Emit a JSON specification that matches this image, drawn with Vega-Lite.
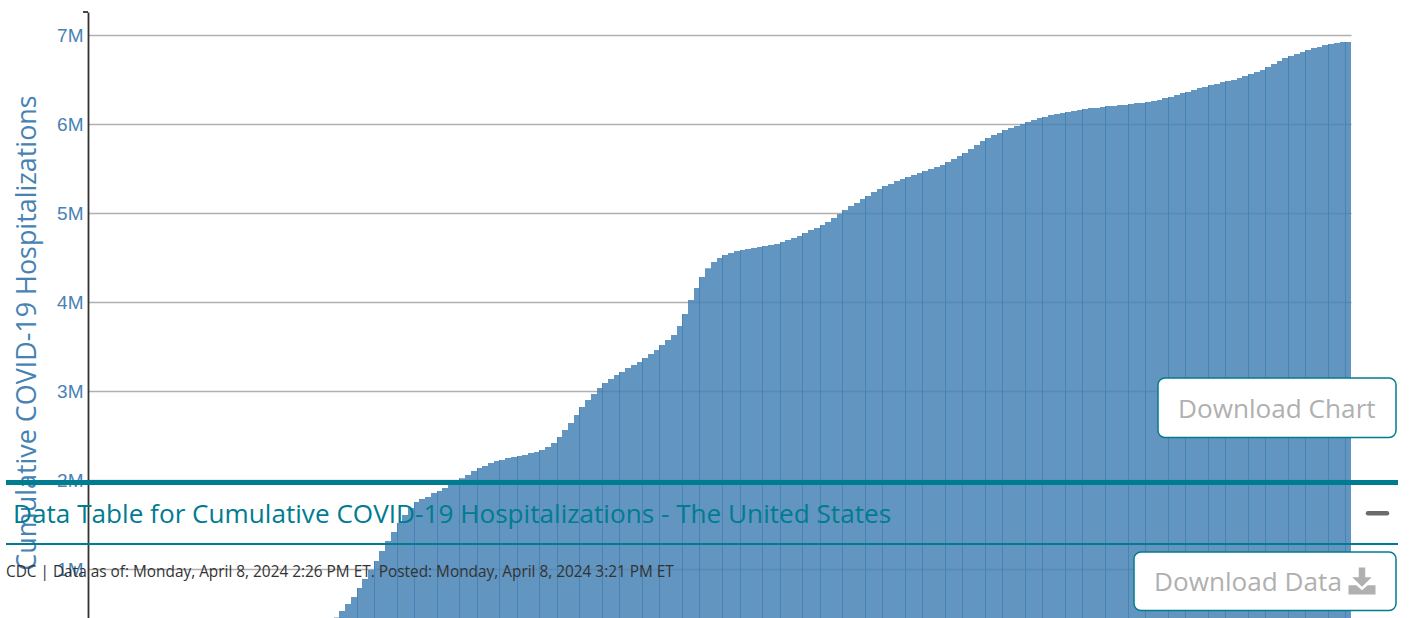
{"$schema":"https://vega.github.io/schema/vega-lite/v6.json","width":1263,"height":606,"autosize":{"type":"none"},"padding":{"left":88,"top":12,"right":59,"bottom":0},"background":"white","view":{"stroke":null},
"data":{"values":[{"week":43,"end":44,"hosp":455000},{"week":44,"end":45,"hosp":528000},{"week":45,"end":46,"hosp":607000},{"week":46,"end":47,"hosp":685000},{"week":47,"end":48,"hosp":787000,"m":1},{"week":48,"end":49,"hosp":888000},{"week":49,"end":50,"hosp":989000},{"week":50,"end":51,"hosp":1090000,"m":1},{"week":51,"end":52,"hosp":1202000},{"week":52,"end":53,"hosp":1315000},{"week":53,"end":54,"hosp":1416000},{"week":54,"end":55,"hosp":1517000,"m":1},{"week":55,"end":56,"hosp":1607000},{"week":56,"end":57,"hosp":1685000},{"week":57,"end":58,"hosp":1753000,"m":1},{"week":58,"end":59,"hosp":1787000},{"week":59,"end":60,"hosp":1809000},{"week":60,"end":61,"hosp":1854000},{"week":61,"end":62,"hosp":1876000,"m":1},{"week":62,"end":63,"hosp":1910000},{"week":63,"end":64,"hosp":1944000},{"week":64,"end":65,"hosp":1966000},{"week":65,"end":66,"hosp":2019000,"m":1},{"week":66,"end":67,"hosp":2056000},{"week":67,"end":68,"hosp":2101000},{"week":68,"end":69,"hosp":2135000,"m":1},{"week":69,"end":70,"hosp":2157000},{"week":70,"end":71,"hosp":2191000},{"week":71,"end":72,"hosp":2213000},{"week":72,"end":73,"hosp":2225000,"m":1},{"week":73,"end":74,"hosp":2247000},{"week":74,"end":75,"hosp":2258000},{"week":75,"end":76,"hosp":2270000,"m":1},{"week":76,"end":77,"hosp":2281000},{"week":77,"end":78,"hosp":2303000},{"week":78,"end":79,"hosp":2315000},{"week":79,"end":80,"hosp":2337000,"m":1},{"week":80,"end":81,"hosp":2371000},{"week":81,"end":82,"hosp":2416000},{"week":82,"end":83,"hosp":2483000,"m":1},{"week":83,"end":84,"hosp":2562000},{"week":84,"end":85,"hosp":2640000},{"week":85,"end":86,"hosp":2730000},{"week":86,"end":87,"hosp":2820000,"m":1},{"week":87,"end":88,"hosp":2899000},{"week":88,"end":89,"hosp":2966000},{"week":89,"end":90,"hosp":3034000},{"week":90,"end":91,"hosp":3090000,"m":1},{"week":91,"end":92,"hosp":3135000},{"week":92,"end":93,"hosp":3180000},{"week":93,"end":94,"hosp":3213000,"m":1},{"week":94,"end":95,"hosp":3258000},{"week":95,"end":96,"hosp":3292000},{"week":96,"end":97,"hosp":3326000},{"week":97,"end":98,"hosp":3371000,"m":1},{"week":98,"end":99,"hosp":3416000},{"week":99,"end":100,"hosp":3461000},{"week":100,"end":101,"hosp":3517000,"m":1},{"week":101,"end":102,"hosp":3573000},{"week":102,"end":103,"hosp":3629000},{"week":103,"end":104,"hosp":3730000},{"week":104,"end":105,"hosp":3865000,"m":1},{"week":105,"end":106,"hosp":4022000},{"week":106,"end":107,"hosp":4157000},{"week":107,"end":108,"hosp":4281000,"m":1},{"week":108,"end":109,"hosp":4379000},{"week":109,"end":110,"hosp":4449000},{"week":110,"end":111,"hosp":4494000},{"week":111,"end":112,"hosp":4528000,"m":1},{"week":112,"end":113,"hosp":4551000},{"week":113,"end":114,"hosp":4573000},{"week":114,"end":115,"hosp":4584000,"m":1},{"week":115,"end":116,"hosp":4596000},{"week":116,"end":117,"hosp":4607000},{"week":117,"end":118,"hosp":4618000},{"week":118,"end":119,"hosp":4629000,"m":1},{"week":119,"end":120,"hosp":4640000},{"week":120,"end":121,"hosp":4652000},{"week":121,"end":122,"hosp":4674000,"m":1},{"week":122,"end":123,"hosp":4697000},{"week":123,"end":124,"hosp":4719000},{"week":124,"end":125,"hosp":4742000},{"week":125,"end":126,"hosp":4775000,"m":1},{"week":126,"end":127,"hosp":4809000},{"week":127,"end":128,"hosp":4831000},{"week":128,"end":129,"hosp":4865000,"m":1},{"week":129,"end":130,"hosp":4899000},{"week":130,"end":131,"hosp":4944000},{"week":131,"end":132,"hosp":4989000},{"week":132,"end":133,"hosp":5034000,"m":1},{"week":133,"end":134,"hosp":5079000},{"week":134,"end":135,"hosp":5112000},{"week":135,"end":136,"hosp":5157000},{"week":136,"end":137,"hosp":5191000,"m":1},{"week":137,"end":138,"hosp":5236000},{"week":138,"end":139,"hosp":5270000},{"week":139,"end":140,"hosp":5303000,"m":1},{"week":140,"end":141,"hosp":5326000},{"week":141,"end":142,"hosp":5360000},{"week":142,"end":143,"hosp":5382000},{"week":143,"end":144,"hosp":5405000,"m":1},{"week":144,"end":145,"hosp":5427000},{"week":145,"end":146,"hosp":5449000},{"week":146,"end":147,"hosp":5472000,"m":1},{"week":147,"end":148,"hosp":5494000},{"week":148,"end":149,"hosp":5517000},{"week":149,"end":150,"hosp":5539000},{"week":150,"end":151,"hosp":5573000,"m":1},{"week":151,"end":152,"hosp":5607000},{"week":152,"end":153,"hosp":5640000},{"week":153,"end":154,"hosp":5674000,"m":1},{"week":154,"end":155,"hosp":5719000},{"week":155,"end":156,"hosp":5764000},{"week":156,"end":157,"hosp":5809000},{"week":157,"end":158,"hosp":5843000,"m":1},{"week":158,"end":159,"hosp":5876000},{"week":159,"end":160,"hosp":5899000},{"week":160,"end":161,"hosp":5933000,"m":1},{"week":161,"end":162,"hosp":5955000},{"week":162,"end":163,"hosp":5978000},{"week":163,"end":164,"hosp":6000000},{"week":164,"end":165,"hosp":6022000,"m":1},{"week":165,"end":166,"hosp":6045000},{"week":166,"end":167,"hosp":6067000},{"week":167,"end":168,"hosp":6079000,"m":1},{"week":168,"end":169,"hosp":6101000},{"week":169,"end":170,"hosp":6112000},{"week":170,"end":171,"hosp":6124000},{"week":171,"end":172,"hosp":6135000,"m":1},{"week":172,"end":173,"hosp":6146000},{"week":173,"end":174,"hosp":6157000},{"week":174,"end":175,"hosp":6169000,"m":1},{"week":175,"end":176,"hosp":6180000},{"week":176,"end":177,"hosp":6180000},{"week":177,"end":178,"hosp":6191000},{"week":178,"end":179,"hosp":6202000,"m":1},{"week":179,"end":180,"hosp":6202000},{"week":180,"end":181,"hosp":6214000},{"week":181,"end":182,"hosp":6214000},{"week":182,"end":183,"hosp":6225000,"m":1},{"week":183,"end":184,"hosp":6236000},{"week":184,"end":185,"hosp":6236000},{"week":185,"end":186,"hosp":6247000,"m":1},{"week":186,"end":187,"hosp":6258000},{"week":187,"end":188,"hosp":6270000},{"week":188,"end":189,"hosp":6292000},{"week":189,"end":190,"hosp":6303000,"m":1},{"week":190,"end":191,"hosp":6326000},{"week":191,"end":192,"hosp":6348000},{"week":192,"end":193,"hosp":6360000,"m":1},{"week":193,"end":194,"hosp":6382000},{"week":194,"end":195,"hosp":6405000},{"week":195,"end":196,"hosp":6416000},{"week":196,"end":197,"hosp":6438000,"m":1},{"week":197,"end":198,"hosp":6450000},{"week":198,"end":199,"hosp":6472000},{"week":199,"end":200,"hosp":6483000,"m":1},{"week":200,"end":201,"hosp":6494000},{"week":201,"end":202,"hosp":6517000},{"week":202,"end":203,"hosp":6539000},{"week":203,"end":204,"hosp":6562000,"m":1},{"week":204,"end":205,"hosp":6584000},{"week":205,"end":206,"hosp":6607000},{"week":206,"end":207,"hosp":6640000,"m":1},{"week":207,"end":208,"hosp":6674000},{"week":208,"end":209,"hosp":6708000},{"week":209,"end":210,"hosp":6742000},{"week":210,"end":211,"hosp":6764000,"m":1},{"week":211,"end":212,"hosp":6787000},{"week":212,"end":213,"hosp":6809000},{"week":213,"end":214,"hosp":6831000,"m":1},{"week":214,"end":215,"hosp":6854000},{"week":215,"end":216,"hosp":6865000},{"week":216,"end":217,"hosp":6888000},{"week":217,"end":218,"hosp":6899000,"m":1},{"week":218,"end":219,"hosp":6910000},{"week":219,"end":220,"hosp":6921000},{"week":220,"end":221,"hosp":6921000,"m":1}]},
"layer":[
{"mark":{"type":"bar","color":"#4682b4","opacity":0.85,"clip":true},
"encoding":{"x":{"field":"week","type":"quantitative","scale":{"domain":[0,221],"round":true,"nice":false,"zero":false},"axis":null},"x2":{"field":"end"},
"y":{"field":"hosp","type":"quantitative","scale":{"domain":[449438,7258427],"nice":false,"zero":false},
"axis":{"values":[1000000,2000000,3000000,4000000,5000000,6000000,7000000],"format":".0s","ticks":false,"grid":true,"gridColor":"#b0b0b0","gridWidth":1.5,"domain":true,"domainColor":"#333333","domainWidth":1.8,"labelFont":"Liberation Sans","labelFontSize":19,"labelColor":"#4682b4","labelPadding":5,"title":"Cumulative COVID-19 Hospitalizations","titleFont":"Open Sans","titleFontSize":26.9,"titleFontWeight":"normal","titleColor":"#4682b4","titleAngle":-90,"titleX":-53,"titleY":320.5,"titleBaseline":"alphabetic","titleAlign":"center"}},"y2":{"datum":449438}}},
{"transform":[{"filter":"datum.m===1"}],"mark":{"type":"rule","color":"#4682b4","opacity":0.95,"strokeWidth":1,"xOffset":0.5},
"encoding":{"x":{"field":"week","type":"quantitative","axis":null},"y":{"field":"hosp","type":"quantitative"},"y2":{"datum":449438}}},
{"data":{"values":[{"part":"axis cap"}]},"mark":{"type":"rule","color":"#333333","strokeWidth":1.8},
"encoding":{"x":{"datum":-0.87,"type":"quantitative","axis":null},"x2":{"datum":0},"y":{"datum":7258427,"type":"quantitative"}}},
{"data":{"values":[{"part":"section rule"}]},"mark":{"type":"rule","color":"#007c91","strokeWidth":5},
"encoding":{"x":{"datum":-14.35,"type":"quantitative","axis":null},"x2":{"datum":229.22},"y":{"datum":1971910,"type":"quantitative"}}},
{"data":{"values":[{"part":"table rule"}]},"mark":{"type":"rule","color":"#007c91","strokeWidth":2},
"encoding":{"x":{"datum":-14.35,"type":"quantitative","axis":null},"x2":{"datum":229.22},"y":{"datum":1280900,"type":"quantitative"}}},
{"data":{"values":[{"label":"Data Table for Cumulative COVID-19 Hospitalizations - The United States"}]},"mark":{"type":"text","align":"left","baseline":"alphabetic","font":"Open Sans","fontSize":26.15,"color":"#007c91"},
"encoding":{"x":{"datum":-13.12,"type":"quantitative","axis":null},"y":{"datum":1513500,"type":"quantitative"},"text":{"field":"label"}}},
{"data":{"values":[{"label":"CDC | Data as of: Monday, April 8, 2024 2:26 PM ET. Posted: Monday, April 8, 2024 3:21 PM ET"}]},"mark":{"type":"text","align":"left","baseline":"alphabetic","font":"Open Sans","fontSize":15.38,"color":"#333333"},
"encoding":{"x":{"datum":-14.35,"type":"quantitative","axis":null},"y":{"datum":913500,"type":"quantitative"},"text":{"field":"label"}}},
{"data":{"values":[{"part":"collapse"}]},"mark":{"type":"rule","color":"#6b6b6b","strokeWidth":4.5,"strokeCap":"round"},
"encoding":{"x":{"datum":224,"type":"quantitative","axis":null},"x2":{"datum":227.3},"y":{"datum":1625800,"type":"quantitative"}}},
{"data":{"values":[{"part":"chart button"}]},"mark":{"type":"rect","fill":"white","stroke":"#007c91","strokeWidth":1.5,"cornerRadius":7},
"encoding":{"x":{"datum":187.23,"type":"quantitative","axis":null},"x2":{"datum":228.96},"y":{"datum":3146100,"type":"quantitative"},"y2":{"datum":2477500}}},
{"data":{"values":[{"part":"data button"}]},"mark":{"type":"rect","fill":"white","stroke":"#007c91","strokeWidth":1.5,"cornerRadius":7},
"encoding":{"x":{"datum":183.03,"type":"quantitative","axis":null},"x2":{"datum":228.96},"y":{"datum":1191000,"type":"quantitative"},"y2":{"datum":533700}}},
{"data":{"values":[{"label":"Download Chart"}]},"mark":{"type":"text","align":"left","baseline":"alphabetic","font":"Open Sans","fontSize":26.15,"color":"#b0b0b0"},
"encoding":{"x":{"datum":190.73,"type":"quantitative","axis":null},"y":{"datum":2699900,"type":"quantitative"},"text":{"field":"label"}}},
{"data":{"values":[{"label":"Download Data"}]},"mark":{"type":"text","align":"left","baseline":"alphabetic","font":"Open Sans","fontSize":26.15,"color":"#b0b0b0"},
"encoding":{"x":{"datum":186.55,"type":"quantitative","axis":null},"y":{"datum":758000,"type":"quantitative"},"text":{"field":"label"}}},
{"data":{"values":[{"part":"download icon"}]},"mark":{"type":"point","filled":true,"opacity":1,"color":"#b0b0b0","size":729,"shape":"M-0.24 -1H0.24V-0.28H0.72L0 0.42L-0.72 -0.28H-0.24Z M-1 0.32H-0.42L0 0.68L0.42 0.32H1V1H-1Z"},
"encoding":{"x":{"datum":223,"type":"quantitative","axis":null},"y":{"datum":865200,"type":"quantitative"}}}
]}
